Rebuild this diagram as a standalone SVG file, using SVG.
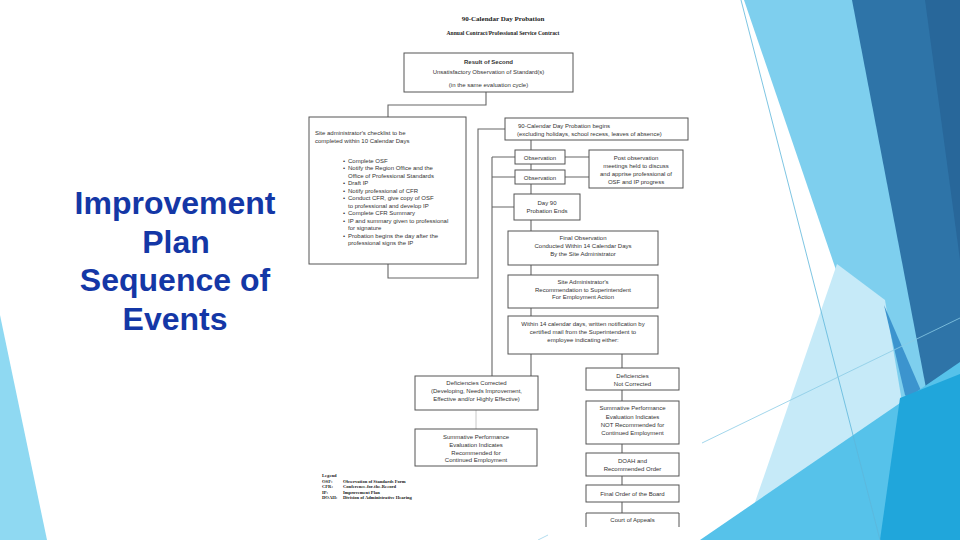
<svg xmlns="http://www.w3.org/2000/svg" width="960" height="540" viewBox="0 0 960 540">
<style>
.bx{fill:#fff;stroke:#555;stroke-width:1}
.t{font-family:"Liberation Sans",Arial,sans-serif;font-size:6px;fill:#333}
.c{text-anchor:middle}
.s{font-family:"Liberation Serif","Times New Roman",serif;font-weight:bold;fill:#222}
.cn{fill:none;stroke:#666;stroke-width:1.1}
.title{font-family:"Liberation Sans",Arial,sans-serif;font-weight:bold;font-size:32px;fill:#1437A6;text-anchor:middle}
</style>
<rect width="960" height="540" fill="#fff"/>
<g id="background">
<polygon points="0,315 47,540 0,540" fill="#8FD9F2"/>
<polygon points="744,0 960,0 960,540 928,540" fill="#7ECFEE"/>
<polygon points="742,540 837,264 885,300 905,420 880,540" fill="#C6EAF8"/>
<polygon points="852,0 960,0 960,540 955,540" fill="#2E74A8"/>
<polygon points="925,0 960,0 960,260" fill="#28679A"/>
<polygon points="884,305 938,430 905,395" fill="#3C94CE"/>
<polygon points="700,540 960,362 960,540" fill="#56C2EA"/>
<polygon points="880,540 900,398 960,374 960,540" fill="#20A6DB"/>
<line x1="741" y1="0" x2="880" y2="540" stroke="#5DB6DA" stroke-width="0.8"/>
<line x1="702" y1="443" x2="960" y2="318" stroke="#8ACBE6" stroke-width="0.8"/>
<line x1="538" y1="540" x2="548" y2="535" stroke="#9FD3EA" stroke-width="0.8"/>
</g>
<g id="title">
<text class="title" x="175" y="214">Improvement</text>
<text class="title" x="176" y="252.5">Plan</text>
<text class="title" x="175" y="291">Sequence of</text>
<text class="title" x="175" y="329.5">Events</text>
</g>
<g id="header">
<text class="s" x="503" y="21" font-size="7" text-anchor="middle">90-Calendar Day Probation</text>
<text class="s" x="503" y="35" font-size="5.6" text-anchor="middle">Annual Contract/Professional Service Contract</text>
</g>
<g id="connectors">
<path class="cn" d="M486,92 V105 H388 V117"/>
<path class="cn" d="M388,264 V278 H478 V129 H505"/>
<path class="cn" d="M531,140 V150 M531,164 V170 M531,184 V194 M531,220 V231 M531,265 V275 M531,308 V316 M531,354 V376"/>
<path class="cn" d="M492,157 V376 M492,157 H515 M492,177 H515 M492,207 H514"/>
<path class="cn" d="M565,157 H589 M565,177 H589"/>
<path fill="none" stroke="#C8C8C8" stroke-width="1" d="M476,410 V429"/>
<path class="cn" d="M622,354 V368 M622,390 V401 M622,444 V453 M622,476 V485 M622,502 V513"/>
</g>
<g id="n-result">
<rect class="bx" x="404" y="53" width="169" height="39"/>
<text class="t c" x="488.5" y="63.5" font-weight="bold" font-size="6.5">Result of Second</text>
<text class="t c" x="488.5" y="73.8" font-size="6.4">Unsatisfactory Observation of Standard(s)</text>
<text class="t c" x="488.5" y="86.5" font-size="6.2">(in the same evaluation cycle)</text>
</g>
<g id="n-checklist">
<rect class="bx" x="309" y="117" width="157" height="147" stroke="#888"/>
<text class="t" x="315" y="135">Site administrator's checklist to be</text>
<text class="t" x="315" y="142.5">completed within 10 Calendar Days</text>
<g class="t" font-size="5.8">
<text x="343" y="162.5">•</text><text x="348" y="162.5">Complete OSF</text>
<text x="343" y="170">•</text><text x="348" y="170">Notify the Region Office and the</text>
<text x="348" y="177.5">Office of Professional Standards</text>
<text x="343" y="185">•</text><text x="348" y="185">Draft IP</text>
<text x="343" y="192.5">•</text><text x="348" y="192.5">Notify professional of CFR</text>
<text x="343" y="200">•</text><text x="348" y="200">Conduct CFR, give copy of OSF</text>
<text x="348" y="207.5">to professional and develop IP</text>
<text x="343" y="215">•</text><text x="348" y="215">Complete CFR Summary</text>
<text x="343" y="222.5">•</text><text x="348" y="222.5">IP and summary given to professional</text>
<text x="348" y="230">for signature</text>
<text x="343" y="237.5">•</text><text x="348" y="237.5">Probation begins the day after the</text>
<text x="348" y="245">professional signs the IP</text>
</g>
</g>
<g id="n-begins">
<rect class="bx" x="505" y="118" width="183" height="22"/>
<text class="t" x="518" y="127.5">90-Calendar Day Probation begins</text>
<text class="t" x="517" y="135.5" font-size="6.2">(excluding holidays, school recess, leaves of absence)</text>
</g>
<g id="n-obs1">
<rect class="bx" x="515" y="150" width="50" height="14"/>
<text class="t c" x="540" y="159.5" font-size="5.6">Observation</text>
</g>
<g id="n-obs2">
<rect class="bx" x="515" y="170" width="50" height="14"/>
<text class="t c" x="540" y="179.5" font-size="5.6">Observation</text>
</g>
<g id="n-post">
<rect class="bx" x="589" y="150" width="94" height="38"/>
<text class="t c" x="636" y="159.5">Post observation</text>
<text class="t c" x="636" y="167.5">meetings held to discuss</text>
<text class="t c" x="636" y="175.5">and apprise professional of</text>
<text class="t c" x="636" y="183.5">OSF and IP progress</text>
</g>
<g id="n-day90">
<rect class="bx" x="514" y="194" width="66" height="26"/>
<text class="t c" x="547" y="205">Day 90</text>
<text class="t c" x="547" y="213">Probation Ends</text>
</g>
<g id="n-final-obs">
<rect class="bx" x="508" y="231" width="150" height="34"/>
<text class="t c" x="583" y="240">Final Observation</text>
<text class="t c" x="583" y="248">Conducted Within 14 Calendar Days</text>
<text class="t c" x="583" y="256">By the Site Administrator</text>
</g>
<g id="n-site-admin">
<rect class="bx" x="508" y="275" width="150" height="33"/>
<text class="t c" x="583" y="283.5">Site Administrator's</text>
<text class="t c" x="583" y="291.5">Recommendation to Superintendent</text>
<text class="t c" x="583" y="299">For Employment Action</text>
</g>
<g id="n-within">
<rect class="bx" x="508" y="316" width="150" height="38"/>
<text class="t c" x="583" y="325.5">Within 14 calendar days, written notification by</text>
<text class="t c" x="583" y="333.5">certified mail from the Superintendent to</text>
<text class="t c" x="583" y="341.5">employee indicating either:</text>
</g>
<g id="n-def-corrected">
<rect class="bx" x="415" y="376" width="123" height="34"/>
<text class="t c" x="476.5" y="384.5">Deficiencies Corrected</text>
<text class="t c" x="476.5" y="392.5">(Developing, Needs Improvement,</text>
<text class="t c" x="476.5" y="400.5">Effective and/or Highly Effective)</text>
</g>
<g id="n-sum-rec">
<rect class="bx" x="415" y="429" width="122" height="37"/>
<text class="t c" x="476" y="439">Summative Performance</text>
<text class="t c" x="476" y="447">Evaluation Indicates</text>
<text class="t c" x="476" y="454.5">Recommended for</text>
<text class="t c" x="476" y="462">Continued Employment</text>
</g>
<g id="n-def-not">
<rect class="bx" x="586" y="368" width="93" height="22"/>
<text class="t c" x="632.5" y="377.5">Deficiencies</text>
<text class="t c" x="632.5" y="385.5">Not Corrected</text>
</g>
<g id="n-sum-not">
<rect class="bx" x="586" y="401" width="93" height="43"/>
<text class="t c" x="632.5" y="410">Summative Performance</text>
<text class="t c" x="632.5" y="418.5" font-size="6.5">Evaluation Indicates</text>
<text class="t c" x="632.5" y="426.5" font-size="6.5">NOT Recommended for</text>
<text class="t c" x="632.5" y="434.5" font-size="6.5">Continued Employment</text>
</g>
<g id="n-doah">
<rect class="bx" x="586" y="453" width="93" height="23"/>
<text class="t c" x="632.5" y="462.5">DOAH and</text>
<text class="t c" x="632.5" y="470.5">Recommended Order</text>
</g>
<g id="n-final-order">
<rect class="bx" x="586" y="485" width="93" height="17"/>
<text class="t c" x="632.5" y="496" font-size="7">Final Order of the Board</text>
</g>
<g id="n-court">
<path d="M586,527 V513 H679 V527" fill="#fff" stroke="#555" stroke-width="1"/>
<text class="t c" x="632.5" y="522" font-size="6.3">Court of Appeals</text>
</g>
<g id="legend" class="s" font-size="4.6">
<text x="322" y="477">Legend</text>
<text x="322" y="482.5">OSF:</text><text x="343" y="482.5">Observation of Standards Form</text>
<text x="322" y="488">CFR:</text><text x="343" y="488">Conference-for-the-Record</text>
<text x="322" y="493.5">IP:</text><text x="343" y="493.5">Improvement Plan</text>
<text x="322" y="499">DOAH:</text><text x="343" y="499">Division of Administrative Hearing</text>
</g>
</svg>
